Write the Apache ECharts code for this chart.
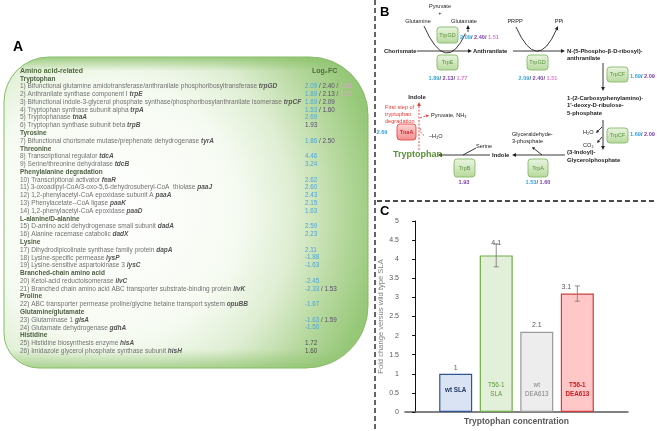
<!DOCTYPE html>
<html><head><meta charset="utf-8">
<script src="https://cdn.jsdelivr.net/npm/echarts@6/dist/echarts.min.js"></script>
<style>html,body{margin:0;padding:0;background:#fff}#c{width:657px;height:431px}</style>
</head><body><div id="c"></div>
<script>
// ---------- Panel C data ----------
const categories = ['wt SLA', 'T56-1 SLA', 'wt DEA613', 'T56-1 DEA613'];
const barLabels = ['wt SLA', 'T56-1\nSLA', 'wt\nDEA613', 'T56-1\nDEA613'];
const foldChange = [1, 4.1, 2.1, 3.1];
const foldError = [0, 0.3, 0, 0.2];
const yAxisName = 'Fold change versus wild type SLA';
const xAxisName = 'Tryptophan concentration';

// ---------- Panel A table data ----------
const tableHeader = ['Amino acid-related', 'Log₂FC'];
// [kind, text, gene, values] ; values: [number, colourKey]
const tableRows = [
  ['g', 'Tryptophan'],
  ['i', '1) Bifunctional glutamine amidotransferase/anthranilate phosphoribosyltransferase', 'trpGD', [[2.09,'b'],[2.40,'p'],[1.51,'m']]],
  ['i', '2) Anthranilate synthase component I', 'trpE', [[1.89,'b'],[2.13,'p'],[1.77,'m']]],
  ['i', '3) Bifunctional indole-3-glycerol phosphate synthase/phosphoribosylanthranilate isomerase', 'trpCF', [[1.69,'b'],[2.09,'p']]],
  ['i', '4) Tryptophan synthase subunit alpha', 'trpA', [[1.53,'b'],[1.60,'p']]],
  ['i', '5) Tryptophanase', 'tnaA', [[2.69,'b']]],
  ['i', '6) Tryptophan synthase subunit beta', 'trpB', [[1.93,'p']]],
  ['g', 'Tyrosine'],
  ['i', '7) Bifunctional chorismate mutase/prephenate dehydrogenase', 'tyrA', [[1.86,'b'],[2.50,'p']]],
  ['g', 'Threonine'],
  ['i', '8) Transcriptional regulator', 'tdcA', [[4.46,'b']]],
  ['i', '9) Serine/threonine dehydratase', 'tdcB', [[3.24,'b']]],
  ['g', 'Phenylalanine degradation'],
  ['i', '10) Transcriptional activator', 'feaR', [[2.62,'b']]],
  ['i', '11) 3-oxoadipyl-CoA/3-oxo-5,6-dehydrosuberyl-CoA  thiolase', 'paaJ', [[2.60,'b']]],
  ['i', '12) 1,2-phenylacetyl-CoA epoxidase subunit A', 'paaA', [[2.43,'b']]],
  ['i', '13) Phenylacetate--CoA ligase', 'paaK', [[2.15,'b']]],
  ['i', '14) 1,2-phenylacetyl-CoA epoxidase', 'paaD', [[1.63,'b']]],
  ['g', 'L-alanine/D-alanine'],
  ['i', '15) D-amino acid dehydrogenase small subunit', 'dadA', [[2.59,'b']]],
  ['i', '16) Alanine racemase catabolic', 'dadX', [[2.23,'b']]],
  ['g', 'Lysine'],
  ['i', '17) Dihydrodipicolinate synthase family protein', 'dapA', [[2.11,'b']]],
  ['i', '18) Lysine-specific permease', 'lysP', [[-1.88,'b']]],
  ['i', '19) Lysine-sensitive aspartokinase 3', 'lysC', [[-1.63,'b']]],
  ['g', 'Branched-chain amino acid'],
  ['i', '20) Ketol-acid reductoisomerase', 'ilvC', [[-2.45,'b']]],
  ['i', '21) Branched chain amino acid ABC transporter substrate-binding protein', 'livK', [[-2.33,'b'],[1.53,'p']]],
  ['g', 'Proline'],
  ['i', '22) ABC transporter permease proline/glycine betaine transport system', 'opuBB', [[-1.67,'b']]],
  ['g', 'Glutamine/glutamate'],
  ['i', '23) Glutaminase 1', 'glsA', [[-1.63,'b'],[1.59,'p']]],
  ['i', '24) Glutamate dehydrogenase', 'gdhA', [[-1.50,'b']]],
  ['g', 'Histidine'],
  ['i', '25) Histidine biosynthesis enzyme', 'hisA', [[1.72,'k']]],
  ['i', '26) Imidazole glycerol phosphate synthase subunit', 'hisH', [[1.60,'k']]]
];

// ---------- Panel B pathway values ----------
const fcTrpGD = [[2.09,'b'],[2.40,'p'],[1.51,'m']];
const fcTrpE = [[1.89,'b'],[2.13,'p'],[1.77,'m']];
const fcTrpCF = [[1.69,'b'],[2.09,'p']];
const fcTrpA = [[1.53,'b'],[1.60,'p']];
const fcTrpB = [[1.93,'p']];
const fcTnaA = [[2.69,'b']];

// ---------- styling ----------
const FF = '"Liberation Sans", Arial, sans-serif';
const colA = {b:'#4aa6dc', p:'#5a4a70', m:'#e3a3cf', k:'#4a4a4a'};
const colB = {b:'#33a6e0', p:'#7a3ea8', m:'#e07ad8', k:'#4a4a4a'};
const fmt = v => v.toFixed(2);
function fcRich(vals, cols, size, bold, sep) {
  const rich = {s:{fill:'#555', fontSize:size, fontFamily:FF, fontWeight: bold?'bold':'normal'}};
  Object.keys(cols).forEach(k => rich[k] = {fill: cols[k], fontSize:size, fontFamily:FF, fontWeight: bold?'bold':'normal'});
  const text = vals.map(v => '{' + v[1] + '|' + fmt(v[0]) + '}').join('{s|' + (sep || '/ ') + '}');
  return {text, rich};
}
function txt(x, y, text, o) {
  o = o || {};
  return {type:'text', silent:true, z: o.z || 10, style: Object.assign({
    text, x, y, fill: o.fill || '#222', fontSize: o.size || 6, fontFamily: FF,
    fontWeight: o.weight || 'normal', fontStyle: o.style || 'normal',
    align: o.align || 'left', verticalAlign: o.va || 'middle'
  }, o.extra || {})};
}
function arrow(x1, y1, x2, y2, o) {
  o = o || {};
  const c = o.color || '#222', L = o.L || 4, W = o.W || 1.9;
  const a = Math.atan2(y2 - y1, x2 - x1);
  const bx = x2 - L * Math.cos(a), by = y2 - L * Math.sin(a);
  const px = -Math.sin(a) * W, py = Math.cos(a) * W;
  return [
    {type:'line', silent:true, shape:{x1, y1, x2: bx, y2: by}, style:{stroke:c, lineWidth:o.w || 0.9, lineDash:o.dash || null}},
    {type:'polygon', silent:true, shape:{points:[[x2,y2],[bx+px,by+py],[bx-px,by-py]]}, style:{fill:c}}
  ];
}
function curveArrow(x1, y1, cx, cy, x2, y2, o) {
  o = o || {};
  const c = o.color || '#222', L = 4, W = 1.9;
  const a = Math.atan2(y2 - cy, x2 - cx);
  const bx = x2 - L * Math.cos(a), by = y2 - L * Math.sin(a);
  const px = -Math.sin(a) * W, py = Math.cos(a) * W;
  const els = [{type:'bezierCurve', silent:true, shape:{x1, y1, x2: bx, y2: by, cpx1: cx, cpy1: cy}, style:{stroke:c, lineWidth:o.w || 0.9, fill:null, lineDash:o.dash || null}}];
  if (!o.noHead) els.push({type:'polygon', silent:true, shape:{points:[[x2,y2],[bx+px,by+py],[bx-px,by-py]]}, style:{fill:c}});
  return els;
}
function enzBox(x, y, w, h, label, red) {
  return [
    {type:'rect', silent:true, z:8, shape:{x, y, width:w, height:h, r:3},
     style:{fill: new echarts.graphic.LinearGradient(0,0,0,1, red ?
       [{offset:0,color:'#fdd6d6'},{offset:1,color:'#f28c8c'}] :
       [{offset:0,color:'#eaf5e1'},{offset:1,color:'#b6d99c'}]),
       stroke: red ? '#e24b4b' : '#88ba6b', lineWidth:0.9}},
    txt(x + w/2, y + h/2, label, {align:'center', size:5.5, fill: red ? '#d42a2a' : '#5c9140', weight: red ? 'bold':'normal', z:9})
  ];
}

const G = [];
// dashed separators
G.push({type:'line', silent:true, shape:{x1:375, y1:0, x2:375, y2:431}, style:{stroke:'#111', lineWidth:1.3, lineDash:[5,3]}});
G.push({type:'line', silent:true, shape:{x1:377, y1:201, x2:657, y2:201}, style:{stroke:'#111', lineWidth:1.3, lineDash:[5,3]}});
// panel letters
G.push(txt(13, 47, 'A', {size:14, weight:'bold', fill:'#000'}));
G.push(txt(380, 12, 'B', {size:13, weight:'bold', fill:'#000'}));
G.push(txt(380, 211, 'C', {size:13, weight:'bold', fill:'#000'}));

// ---------- Panel A ----------
G.push({type:'rect', silent:true, z:1, shape:{x:4, y:57, width:364, height:311, r:[45,58,62,35]},
  style:{fill: new echarts.graphic.RadialGradient(0.3, 0.5, 0.96, [
    {offset:0, color:'#ffffff'}, {offset:0.42, color:'#f6fbf2'}, {offset:0.6, color:'#dfeed3'},
    {offset:0.76, color:'#b8d9a0'}, {offset:0.9, color:'#96c878'}, {offset:1, color:'#8cc26c'}]),
    stroke:'#86bb65', lineWidth:1}});
G.push({type:'rect', silent:true, z:2, shape:{x:4, y:57, width:364, height:311, r:[45,58,62,35]},
  style:{fill: new echarts.graphic.LinearGradient(0,0,0,1, [
    {offset:0, color:'rgba(140,194,108,0.8)'}, {offset:0.045, color:'rgba(140,194,108,0)'},
    {offset:0.94, color:'rgba(140,194,108,0)'}, {offset:1, color:'rgba(140,194,108,0.65)'}])}});
const rowY = i => 71 + i * 7.78;
G.push(txt(20, rowY(0), tableHeader[0], {size:7, weight:'bold', fill:'#4d6a3a'}));
G.push(txt(312, rowY(0), tableHeader[1], {size:7, weight:'bold', fill:'#4d6a3a'}));
tableRows.forEach((r, k) => {
  const y = rowY(k + 1);
  if (r[0] === 'g') {
    G.push(txt(20, y, r[1], {size:6.5, weight:'bold', fill:'#4f5f44'}));
  } else {
    G.push(txt(20, y, '{t|' + r[1] + ' }{g|' + r[2] + '}', {extra:{rich:{
      t:{fill:'#727272', fontSize:6.5, fontFamily:FF},
      g:{fill:'#555', fontSize:6.5, fontFamily:FF, fontWeight:'bold', fontStyle:'italic'}}}}));
    const f = fcRich(r[3], colA, 6.3, false, ' / ');
    G.push(txt(305, y, f.text, {extra:{rich:f.rich}}));
  }
});

// ---------- Panel B ----------
const B = (x,y,t,o) => G.push(txt(x,y,t,Object.assign({size:5.6},o||{})));
const BB = (x,y,t,o) => G.push(txt(x,y,t,Object.assign({size:5.9, weight:'bold'},o||{})));
B(440, 6, 'Pyruvate', {align:'center'});
B(440, 13, '+', {align:'center'});
B(464, 21, 'Glutamate', {align:'center'});
B(418, 21, 'Glutamine', {align:'center'});
G.push(...arrow(468, 32, 468, 25));
G.push(...curveArrow(424, 26, 446, 76, 467, 30, {noHead:true}));
G.push(...enzBox(437, 27, 21, 16, 'TrpGD'));
(function(){const f=fcRich(fcTrpGD,colB,5.6,true);B(460,37,f.text,{extra:{rich:f.rich}});})();
BB(384, 51, 'Chorismate');
G.push(...arrow(417, 51, 472, 51));
BB(473, 51, 'Anthranilate');
G.push(...enzBox(437, 55, 21, 15, 'TrpE'));
(function(){const f=fcRich(fcTrpE,colB,5.6,true);B(448,78,f.text,{align:'center',extra:{rich:f.rich}});})();
G.push(...arrow(513, 51, 565, 51));
B(515, 21, 'PRPP', {align:'center'});
B(559, 21, 'PPi', {align:'center'});
G.push(...curveArrow(516, 27, 537, 74, 558, 26));
G.push(...enzBox(527, 55, 21, 15, 'TrpGD'));
(function(){const f=fcRich(fcTrpGD,colB,5.6,true);B(538,78,f.text,{align:'center',extra:{rich:f.rich}});})();
BB(567, 51, 'N-(5-Phospho-β-D-ribosyl)-');
BB(567, 58.5, 'anthranilate');
G.push(...arrow(603, 63, 603, 91));
G.push(...enzBox(607, 67, 21, 15, 'TrpCF'));
(function(){const f=fcRich(fcTrpCF,colB,5.6,true);B(630,76,f.text,{extra:{rich:f.rich}});})();
BB(567, 98, '1-(2-Carboxyphenylamino)-');
BB(567, 105.5, '1\'-deoxy-D-ribulose-');
BB(567, 113, '5-phosphate');
G.push(...arrow(603, 120, 603, 150));
B(583, 132, 'H₂O');
G.push(...arrow(602, 127, 596, 133, {L:3, W:1.5}));
B(583, 145, 'CO₂');
G.push(...arrow(602, 137, 597, 143, {L:3, W:1.5}));
G.push(...enzBox(607, 128, 21, 15, 'TrpCF'));
(function(){const f=fcRich(fcTrpCF,colB,5.6,true);B(630,134,f.text,{extra:{rich:f.rich}});})();
BB(567, 152.5, '(3-Indoyl)-');
BB(567, 160, 'Glycerolphosphate');
G.push(...arrow(565, 155, 512, 155));
BB(492, 155, 'Indole');
G.push(...arrow(490, 155, 438, 155));
G.push(txt(393, 155, 'Tryptophan', {size:9, weight:'bold', fill:'#5a9237'}));
B(512, 134, 'Glyceraldehyde-');
B(512, 141, '3-phosphate');
G.push(...arrow(542, 155, 532, 147, {L:3, W:1.6}));
G.push(...enzBox(528, 159, 20, 18, 'TrpA'));
(function(){const f=fcRich(fcTrpA,colB,5.6,true);B(538,182,f.text,{align:'center',extra:{rich:f.rich}});})();
B(476, 146, 'Serine');
G.push({type:'line', silent:true, shape:{x1:476, y1:148, x2:463, y2:155}, style:{stroke:'#222', lineWidth:0.9}});
G.push(...enzBox(454, 159, 21, 18, 'TrpB'));
(function(){const f=fcRich(fcTrpB,colB,5.6,true);B(464,182,f.text,{align:'center',extra:{rich:f.rich}});})();
// TnaA degradation branch
BB(417, 97, 'Indole', {align:'center'});
G.push(...arrow(419, 150, 419, 102, {color:'#e53935', dash:[2,1.5]}));
G.push(...enzBox(397, 124, 19, 16, 'TnaA', true));
B(382, 132, fmt(fcTnaA[0][0]), {align:'center', weight:'bold', fill:colB.b});
B(385, 107, 'First step of', {fill:'#e53935'});
B(385, 114, 'tryptophan', {fill:'#e53935'});
B(385, 121, 'degradation', {fill:'#e53935'});
G.push(...arrow(420, 118, 429, 115, {color:'#e53935', dash:[2,1.5], L:3, W:1.6}));
B(431, 115, 'Pyruvate, NH₃');
G.push(...curveArrow(420, 128, 421, 135, 428, 135, {color:'#e53935', dash:[2,1.5], noHead:true}));
B(429, 136, '–H₂O');

// ---------- Panel C chart ----------
const barStyles = [
  {fill:'#dae3f3', border:'#2f5597', text:'#1f3864', weight:'bold'},
  {fill:'#e2efd9', border:'#70ad47', text:'#5e9a3a', weight:'normal'},
  {fill:'#ededed', border:'#9a9a9a', text:'#7f7f7f', weight:'normal'},
  {fill:'#ffc7c7', border:'#d23c3c', text:'#d01c1c', weight:'bold'}
];
const topLabelOffsets = [[0,-6],[0,-12],[0,-7],[-11,-7]];

const option = {
  animation:false,
  graphic:{elements:G},
  grid:{left:405, right:29, top:221, bottom:19},
  xAxis:{type:'value', min:-0.25, max:5.25, axisLabel:{show:false}, axisTick:{show:false}, splitLine:{show:false},
    axisLine:{lineStyle:{color:'#595959', width:1.5}},
    name:xAxisName, nameLocation:'middle', nameGap:5,
    nameTextStyle:{fontFamily:FF, fontSize:8.5, fontWeight:'bold', color:'#595959'}},
  yAxis:{type:'value', min:0, max:5, interval:0.5,
    axisLine:{show:true, lineStyle:{color:'#111', width:1}},
    axisTick:{show:true, length:3, lineStyle:{color:'#111'}},
    splitLine:{show:false},
    axisLabel:{fontFamily:FF, fontSize:7, color:'#595959', margin:6},
    name:yAxisName, nameLocation:'middle', nameGap:18, nameRotate:90,
    nameTextStyle:{fontFamily:FF, fontSize:7.6, color:'#808080'}},
  series:[
    {type:'bar', barWidth:33,
     data: categories.map((c,i) => ({name:c, value:[i+1, foldChange[i]],
       itemStyle:{color:barStyles[i].fill, borderColor:barStyles[i].border, borderWidth:1.2},
       label:{show:true, position:'insideBottom', distance:22, verticalAlign:'middle', formatter:barLabels[i],
         color:barStyles[i].text, fontWeight:barStyles[i].weight, fontFamily:FF, fontSize:6.3, lineHeight:9}}))},
    {type:'custom', z:5,
     data: categories.map((c,i) => [i+1, foldChange[i], foldError[i], i]),
     renderItem:function(params, api){
       const x = api.value(0), y = api.value(1), e = api.value(2), idx = api.value(3);
       const top = api.coord([x, y]);
       const ch = [];
       if (e > 0) {
         const a = api.coord([x, y + e]), b = api.coord([x, y - e]);
         const st = {stroke:'#7f7f7f', lineWidth:0.9};
         ch.push({type:'line', shape:{x1:a[0], y1:a[1], x2:b[0], y2:b[1]}, style:st});
         ch.push({type:'line', shape:{x1:a[0]-2.5, y1:a[1], x2:a[0]+2.5, y2:a[1]}, style:st});
         ch.push({type:'line', shape:{x1:b[0]-2.5, y1:b[1], x2:b[0]+2.5, y2:b[1]}, style:st});
       }
       const off = topLabelOffsets[idx];
       ch.push({type:'text', style:{text:String(y), x:top[0]+off[0], y:top[1]+off[1], align:'center', verticalAlign:'middle',
         fill:'#595959', fontSize:7, fontFamily:FF}});
       return {type:'group', children:ch};
     }}
  ]
};
const chart = echarts.init(document.getElementById('c'), null, {renderer:'canvas'});
chart.setOption(option);
</script></body></html>
